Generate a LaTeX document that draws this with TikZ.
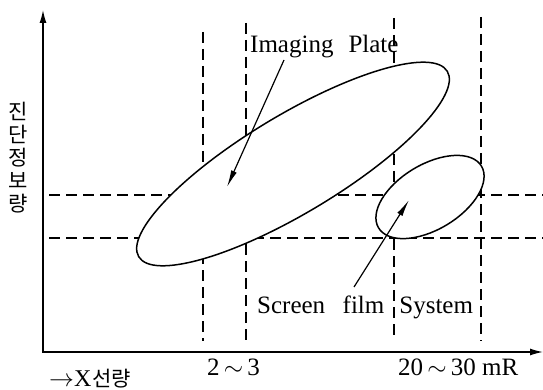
\documentclass[tikz,border=0pt]{standalone}
\usepackage{fontspec}
\setmainfont{Liberation Serif}
\newfontfamily\kr{Noto Sans CJK KR}
\usetikzlibrary{shapes.geometric,arrows.meta}
\begin{document}
\begin{tikzpicture}[x=1pt,y=-1pt,
  guide/.style={line width=1.2pt, dash pattern=on 11pt off 6pt},
  axis/.style={line width=1.4pt},
  blob/.style={draw, ellipse, line width=1.5pt, fill=white, inner sep=0pt, rotate=31},
  lbl/.style={font=\fontsize{25}{28}\selectfont, inner sep=0pt},
  pointer/.style={line width=1.2pt, -{Latex[length=17pt,width=6pt]}}]
\useasboundingbox (0,0) rectangle (543,390);
% guide lines
\draw[guide] (203,32) -- (203,341);
\draw[guide] (246,23) -- (246,341);
\draw[guide] (394,18) -- (394,341);
\draw[guide] (481,17) -- (481,341);
\draw[guide] (49,195) -- (543,195);
\draw[guide] (49,238) -- (543,238);
% regions
\node[blob, minimum width=360pt, minimum height=98pt] (ip) at (293,164) {};
\node[blob, minimum width=120pt, minimum height=65pt] (sfs) at (430,197) {};
% axes
\coordinate (o) at (43,352);
\coordinate (ytop) at (43,10);
\coordinate (xend) at (543,352);
\draw[axis, {Latex[length=13pt,width=7pt]}-{Latex[length=13pt,width=7pt]}] (ytop) -- (o) -- (xend);
% labels and pointers
\node[lbl, anchor=base west] (iplbl) at (250,53) {Imaging\hspace{0.6em}Plate};
\node[lbl, anchor=base west] (sfslbl) at (257,313) {Screen\hspace{0.7em}film\hspace{0.6em}System};
\coordinate (ipstart) at (284,60);
\coordinate (iptip) at (227,187);
\coordinate (sfsstart) at (354,287);
\coordinate (sfstip) at (409,200);
\draw[pointer] (ipstart) -- (iptip);
\draw[pointer] (sfsstart) -- (sfstip);
\node[lbl, anchor=base west] (t23) at (207,375) {2\,$\sim$\,3};
\node[lbl, anchor=base west] (t2030) at (398,375) {20\,$\sim$\,30 mR};
\node[font={\kr\fontsize{21}{23}\selectfont}, align=center, inner sep=0pt] (ylab) at (18,158) {진\\단\\정\\보\\량};
\node[font={\fontsize{24}{26}\selectfont}, anchor=base west, inner sep=0pt] (xlab) at (49,386) {$\rightarrow$X\hspace{1pt}{\kr\fontsize{21}{24}\selectfont 선량}};
\end{tikzpicture}
\end{document}
